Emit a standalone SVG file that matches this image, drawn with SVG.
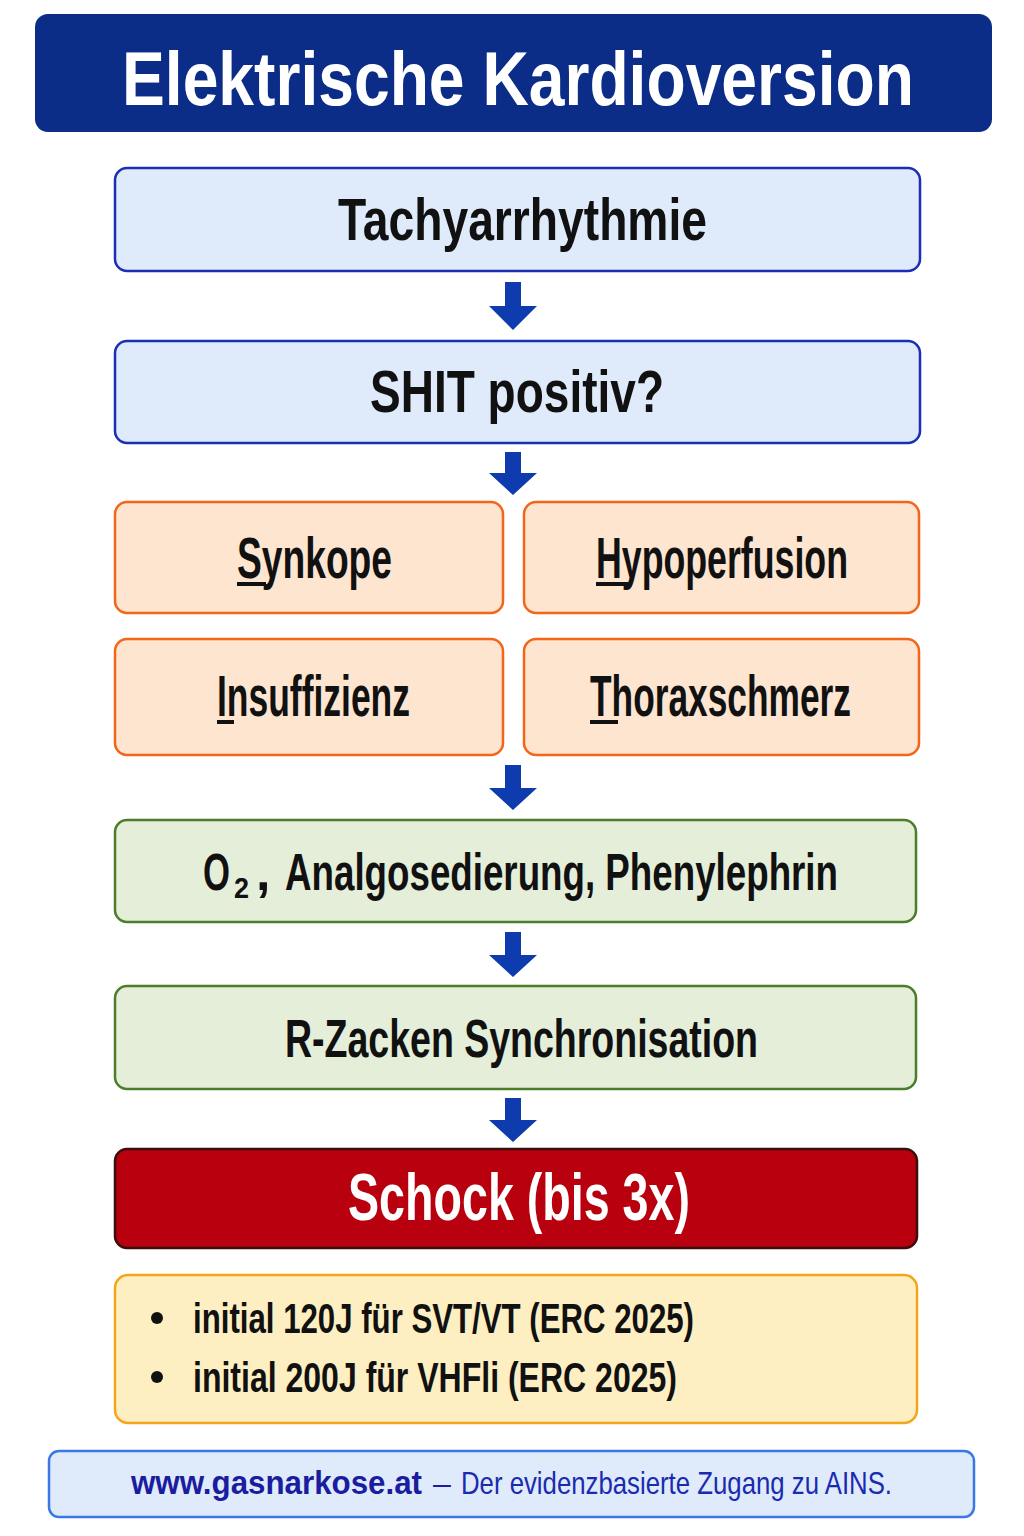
<svg xmlns="http://www.w3.org/2000/svg" width="1024" height="1536" viewBox="0 0 1024 1536">
<style>
.t{font-family:"Liberation Sans Narrow","Liberation Sans",Arial,sans-serif;font-weight:bold;text-anchor:start}
.blue{fill:#dfeafb;stroke:#1b2fb5;stroke-width:2.5}
.orange{fill:#fde5cf;stroke:#f3661a;stroke-width:2.5}
.green{fill:#e4eed9;stroke:#4b7d2a;stroke-width:2.5}
.arrow{fill:#0e3cae}
.ul{fill:#111}
</style>
<rect width="1024" height="1536" fill="#ffffff"/>
<g id="title">
<rect x="35" y="14" width="957" height="118" rx="13" fill="#0b2c87"/>
<text class="t" x="122" y="105" font-size="76" fill="#ffffff" textLength="792" lengthAdjust="spacingAndGlyphs">Elektrische Kardioversion</text>
</g>
<g id="tachy">
<rect class="blue" x="115" y="168" width="805" height="103" rx="12"/>
<text class="t" x="338" y="240" font-size="60" fill="#111" textLength="369" lengthAdjust="spacingAndGlyphs">Tachyarrhythmie</text>
</g>
<g id="shit">
<rect class="blue" x="115" y="341" width="805" height="102" rx="12"/>
<text class="t" x="370" y="412" font-size="60" fill="#111" textLength="294" lengthAdjust="spacingAndGlyphs">SHIT positiv?</text>
</g>
<g id="synkope">
<rect class="orange" x="115" y="502" width="388" height="111" rx="12"/>
<text class="t" x="237" y="578" font-size="58" fill="#111" textLength="155" lengthAdjust="spacingAndGlyphs">Synkope</text>
<rect class="ul" x="237" y="582" width="29" height="4"/>
</g>
<g id="hypoperfusion">
<rect class="orange" x="524" y="502" width="395" height="111" rx="12"/>
<text class="t" x="596" y="578" font-size="58" fill="#111" textLength="252" lengthAdjust="spacingAndGlyphs">Hypoperfusion</text>
<rect class="ul" x="596" y="582" width="34" height="4"/>
</g>
<g id="insuffizienz">
<rect class="orange" x="115" y="639" width="388" height="116" rx="12"/>
<text class="t" x="217" y="716" font-size="58" fill="#111" textLength="193" lengthAdjust="spacingAndGlyphs">Insuffizienz</text>
<rect class="ul" x="217" y="720" width="17" height="4"/>
</g>
<g id="thoraxschmerz">
<rect class="orange" x="524" y="639" width="395" height="116" rx="12"/>
<text class="t" x="590" y="716" font-size="58" fill="#111" textLength="261" lengthAdjust="spacingAndGlyphs">Thoraxschmerz</text>
<rect class="ul" x="590" y="720" width="28" height="4"/>
</g>
<g id="massnahmen">
<rect class="green" x="115" y="820" width="801" height="102" rx="12"/>
<text class="t" x="203" y="890" font-size="52" fill="#111" textLength="27" lengthAdjust="spacingAndGlyphs">O</text>
<text class="t" x="234" y="898" font-size="30" fill="#111" textLength="15" lengthAdjust="spacingAndGlyphs">2</text>
<text class="t" x="256" y="890" font-size="52" fill="#111">,</text>
<text class="t" x="285" y="890" font-size="52" fill="#111" textLength="553" lengthAdjust="spacingAndGlyphs">Analgosedierung, Phenylephrin</text>
</g>
<g id="sync">
<rect class="green" x="115" y="986" width="801" height="103" rx="12"/>
<text class="t" x="285" y="1057" font-size="53" fill="#111" textLength="473" lengthAdjust="spacingAndGlyphs">R-Zacken Synchronisation</text>
</g>
<g id="schock">
<rect x="115" y="1149" width="802" height="99" rx="12" fill="#b8000f" stroke="#3b0d0d" stroke-width="2.5"/>
<text class="t" x="348" y="1220" font-size="66" fill="#ffffff" textLength="342" lengthAdjust="spacingAndGlyphs">Schock (bis 3x)</text>
</g>
<g id="energie">
<rect x="115" y="1275" width="802" height="148" rx="13" fill="#fdefc2" stroke="#f5a51b" stroke-width="2.5"/>
<circle cx="157" cy="1318" r="6" fill="#111"/>
<circle cx="157" cy="1377" r="6" fill="#111"/>
<text class="t" x="193" y="1333" font-size="42" fill="#111" textLength="501" lengthAdjust="spacingAndGlyphs">initial 120J für SVT/VT (ERC 2025)</text>
<text class="t" x="193" y="1392" font-size="42" fill="#111" textLength="484" lengthAdjust="spacingAndGlyphs">initial 200J für VHFli (ERC 2025)</text>
</g>
<g id="footer">
<rect x="49" y="1451" width="925" height="66" rx="10" fill="#dfeafb" stroke="#3a78e6" stroke-width="2.5"/>
<text class="t" x="131" y="1494" font-size="33" fill="#1a1d9e" textLength="291" lengthAdjust="spacingAndGlyphs">www.gasnarkose.at</text>
<text x="433" y="1494" font-size="32" fill="#1a1d9e" font-family="Liberation Sans Narrow,Liberation Sans,sans-serif">–</text>
<text x="461" y="1494" font-size="32" fill="#1a2bb0" font-family="Liberation Sans Narrow,Liberation Sans,sans-serif" textLength="431" lengthAdjust="spacingAndGlyphs">Der evidenzbasierte Zugang zu AINS.</text>
</g>
<g id="connectors">
<path class="arrow" d="M505 282 H521 V306 H537 L513 330 L489 306 H505 Z"/>
<path class="arrow" d="M505 452 H521 V473 H537 L513 495 L489 473 H505 Z"/>
<path class="arrow" d="M505 765 H521 V788 H537 L513 810 L489 788 H505 Z"/>
<path class="arrow" d="M505 932 H521 V955 H537 L513 977 L489 955 H505 Z"/>
<path class="arrow" d="M505 1098 H521 V1120 H537 L513 1142 L489 1120 H505 Z"/>
</g>
</svg>
